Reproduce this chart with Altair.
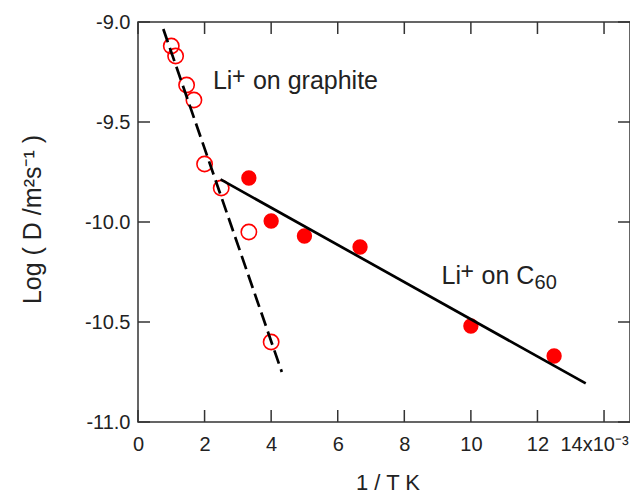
import altair as alt
import pandas as pd

# ---- data ----
graphite_x = [1.0, 1.13, 1.46, 1.68, 2.0, 2.5, 3.33, 4.0]
graphite_y = [-9.12, -9.17, -9.315, -9.39, -9.71, -9.83, -10.05, -10.6]

c60_x = [3.33, 4.0, 5.0, 6.67, 10.0, 12.5]
c60_y = [-9.78, -9.995, -10.07, -10.125, -10.52, -10.67]

graphite_fit_x = [0.76, 4.32]
graphite_fit_y = [-9.035, -10.75]

c60_fit_x = [2.48, 13.45]
c60_fit_y = [-9.787, -10.807]

# annotation pieces: main text, superscript, rest, subscript
label_main = ["Li", "Li"]
label_sup = ["+", "+"]
label_rest = ["on graphite", "on C"]
label_sub = ["", "60"]
label_x = [2.25, 9.12]
label_y = [-9.337, -10.31]

x_ticks = [0, 2, 4, 6, 8, 10, 12, 14]
y_ticks = [-11.0, -10.5, -10.0, -9.5, -9.0]

FONT = "Liberation Sans"
W, H = 492, 400
XMAX = 14.78
TXT = "#222"
FS = 25

xscale = alt.Scale(domain=[0, XMAX], nice=False, zero=False)
yscale = alt.Scale(domain=[-11, -9], nice=False, zero=False)

xaxis = alt.Axis(
    values=x_ticks, ticks=False, domain=False, grid=False,
    labelExpr="datum.value == 14 ? '14x10⁻³' : datum.label",
    labelOffset={"condition": {"test": "datum.value == 14", "value": -10}, "value": 0},
    labelFlush=False, labelOverlap=False, labelPadding=12,
    labelFontSize=20, labelFont=FONT, labelColor=TXT,
    title="1 / T K", titleFont=FONT, titleFontSize=22, titleFontWeight="normal",
    titleColor=TXT, titleBaseline="alphabetic", titleY=67, titleX=(499) / 2,
    titleAlign="center",
)
yaxis = alt.Axis(
    values=y_ticks, ticks=False, domain=False, grid=False,
    labelExpr="datum.value < 0 ? '-' + format(-datum.value, '.1f') : format(datum.value, '.1f')",
    labelFlush=False, labelOverlap=False, labelPadding=8,
    labelFontSize=20, labelFont=FONT, labelColor=TXT,
    title="Log ( D /m²s⁻¹ )", titleFont=FONT, titleFontSize=25, titleFontWeight="normal",
    titleColor=TXT, titleBaseline="alphabetic", titleAngle=270,
    titleX=-98, titleY=197, titleAlign="center",
)

X = lambda f="x": alt.X(f"{f}:Q", scale=xscale, axis=xaxis)
Y = lambda f="y": alt.Y(f"{f}:Q", scale=yscale, axis=yaxis)

df_g = pd.DataFrame({"x": graphite_x, "y": graphite_y})
df_c = pd.DataFrame({"x": c60_x, "y": c60_y})
df_gf = pd.DataFrame({"x": graphite_fit_x, "y": graphite_fit_y})
df_cf = pd.DataFrame({"x": c60_fit_x, "y": c60_fit_y})
df_lab = pd.DataFrame({"x": label_x, "y": label_y, "main": label_main,
                       "sup": label_sup, "rest": label_rest, "sub": label_sub})
df_xt = pd.DataFrame({"x": x_ticks})
df_yt = pd.DataFrame({"y": y_ticks})

open_pts = alt.Chart(df_g).mark_point(
    shape="circle", filled=False, size=235, strokeWidth=1.6, color="#ff0000", opacity=1
).encode(x=X(), y=Y())

filled_pts = alt.Chart(df_c).mark_circle(
    size=235, color="#ff0000", opacity=1
).encode(x=X(), y=Y())

dash_line = alt.Chart(df_gf).mark_line(
    color="black", strokeWidth=2.7, strokeDash=[14, 6]
).encode(x=X(), y=Y())

solid_line = alt.Chart(df_cf).mark_line(
    color="black", strokeWidth=2.7
).encode(x=X(), y=Y())

base_lab = alt.Chart(df_lab)
lab_main = base_lab.mark_text(
    align="left", baseline="alphabetic", font=FONT, fontSize=FS, color=TXT
).encode(x=X(), y=Y(), text="main:N")
lab_sup = base_lab.mark_text(
    align="left", baseline="alphabetic", font=FONT, fontSize=23, color=TXT, dx=19, dy=-5
).encode(x=X(), y=Y(), text="sup:N")
lab_rest = base_lab.mark_text(
    align="left", baseline="alphabetic", font=FONT, fontSize=FS, color=TXT, dx=40
).encode(x=X(), y=Y(), text="rest:N")
lab_sub = base_lab.mark_text(
    align="left", baseline="alphabetic", font=FONT, fontSize=20, color=TXT, dx=93, dy=5
).encode(x=X(), y=Y(), text="sub:N")

rule_style = dict(color="#333", strokeWidth=1.5)
tick_bottom = alt.Chart(df_xt).mark_rule(**rule_style).encode(
    x=X(), y=alt.value(H), y2=alt.value(H - 12))
tick_top = alt.Chart(df_xt).mark_rule(**rule_style).encode(
    x=X(), y=alt.value(0), y2=alt.value(12))
tick_left = alt.Chart(df_yt).mark_rule(**rule_style).encode(
    y=Y(), x=alt.value(0), x2=alt.value(12))
tick_right = alt.Chart(df_yt).mark_rule(**rule_style).encode(
    y=Y(), x=alt.value(W), x2=alt.value(W - 12))

chart = alt.layer(
    tick_bottom, tick_top, tick_left, tick_right,
    open_pts, filled_pts, dash_line, solid_line,
    lab_main, lab_sup, lab_rest, lab_sub,
).properties(
    width=W, height=H,
    autosize="none",
    padding={"left": 130, "top": 14, "right": 0, "bottom": 72},
    background="white",
).configure_view(
    stroke="#333", strokeWidth=1.5
)

chart.save("out.html", embed_options={"renderer": "svg", "actions": False})
